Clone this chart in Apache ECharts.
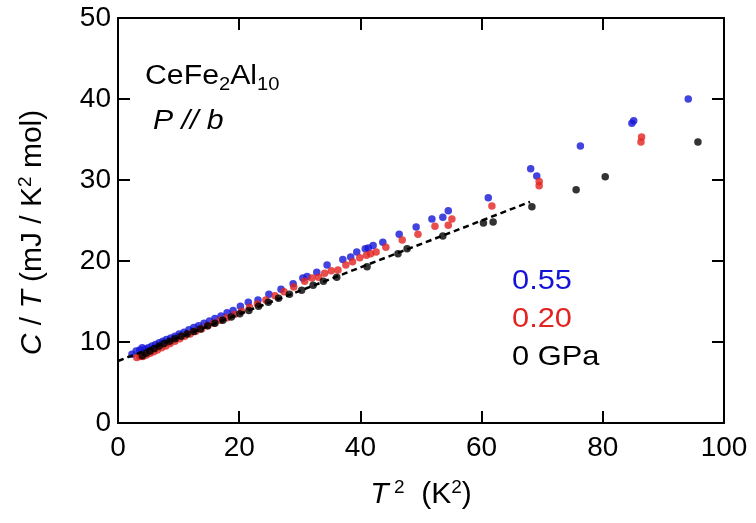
<!DOCTYPE html>
<html>
<head>
<meta charset="utf-8">
<script src="https://cdn.jsdelivr.net/npm/echarts@6/dist/echarts.min.js"></script>
<style>
  html, body { margin: 0; padding: 0; background: #fff; }
  #chart { width: 756px; height: 523px; }
</style>
</head>
<body>
<div id="chart"></div>
<script>
// C/T versus T^2 for CeFe2Al10, P // b, at three pressures
const p055 = [
  [2.3, 8.5], [3.0, 8.9], [3.6, 9.0], [4.0, 9.3], [4.5, 9.1], [5.0, 9.3], [5.6, 9.5],
  [6.2, 9.7], [6.8, 9.9], [7.4, 10.1], [8.0, 10.3], [8.7, 10.5], [9.4, 10.7], [10.1, 11.0],
  [10.9, 11.2], [11.7, 11.5], [12.5, 11.8], [13.3, 12.0], [14.2, 12.3], [15.1, 12.6],
  [16.0, 12.9], [17.0, 13.2], [18.0, 13.6], [19.0, 13.9], [20.2, 14.4], [21.5, 14.9],
  [23.1, 15.2], [24.9, 15.9], [26.9, 16.5], [28.9, 17.2], [30.5, 17.9], [31.2, 18.1],
  [32.8, 18.6], [34.5, 19.5], [37.1, 20.2], [38.4, 20.5], [39.4, 21.1], [40.8, 21.5],
  [41.3, 21.6], [42.1, 21.9], [43.7, 22.3], [46.4, 23.3], [49.2, 24.2], [51.8, 25.2],
  [53.6, 25.4], [54.5, 26.2], [61.1, 27.8], [68.1, 31.4], [69.1, 30.5], [76.3, 34.2],
  [84.8, 37.0], [85.1, 37.3], [94.1, 40.0]
];
const p020 = [
  [3.1, 8.1], [3.6, 8.2], [4.1, 8.2], [4.7, 8.4], [5.3, 8.6], [5.9, 8.8], [6.5, 9.0],
  [7.2, 9.3], [7.9, 9.5], [8.6, 9.8], [9.4, 10.1], [10.2, 10.4], [11.0, 10.7], [11.9, 11.0],
  [12.8, 11.3], [13.8, 11.6], [14.8, 12.0], [15.8, 12.3], [16.9, 12.7], [18.0, 13.0],
  [19.2, 13.4], [20.4, 13.8], [21.7, 14.3], [23.0, 14.7], [24.4, 15.2], [25.9, 15.7],
  [27.4, 16.2], [29.0, 16.8], [30.8, 17.5], [32.0, 17.9], [33.1, 18.0], [34.1, 18.5],
  [35.2, 18.8], [36.3, 18.9], [37.6, 19.5], [38.7, 19.9], [39.9, 20.4], [41.0, 20.7],
  [41.7, 20.9], [42.6, 21.1], [44.2, 21.7], [46.9, 22.6], [49.5, 23.3], [52.3, 24.3],
  [54.5, 24.4], [55.1, 25.2], [61.7, 26.8], [69.5, 29.3], [69.5, 29.8], [86.3, 34.7],
  [86.4, 35.3]
];
const p000 = [
  [4.0, 8.3], [4.6, 8.6], [5.3, 8.9], [6.0, 9.2], [6.8, 9.5], [7.6, 9.8], [8.5, 10.1],
  [9.4, 10.4], [10.4, 10.7], [11.4, 11.0], [12.5, 11.3], [13.6, 11.6], [14.8, 12.0],
  [16.0, 12.3], [17.3, 12.7], [18.7, 13.1], [20.1, 13.5], [21.6, 13.9], [23.2, 14.4],
  [24.8, 14.9], [26.5, 15.4], [28.3, 15.9], [30.3, 16.4], [32.2, 17.0], [33.9, 17.5],
  [36.1, 18.0], [41.1, 19.3], [46.2, 20.9], [47.7, 21.5], [53.6, 23.1], [60.3, 24.7],
  [61.9, 24.8], [68.3, 26.7], [75.6, 28.8], [80.4, 30.4], [95.7, 34.7]
];
// linear fit gamma + beta*T^2 through the 0 GPa data
const fitLine = [[0, 7.65], [68, 27.3]];

const xTicks = { min: 0, max: 100, interval: 20 };
const yTicks = { min: 0, max: 50, interval: 10 };
const legendLabels = ['0.55', '0.20', '0 GPa'];

const FONT = '"Liberation Sans", Arial, sans-serif';
const BLUE = '#1414d8';
const RED = '#e2231f';
const BLACK = '#000000';

const axisLine = { show: true, onZero: false, lineStyle: { color: '#000', width: 2 } };
const axisTick = { show: true, inside: true, length: 12, lineStyle: { color: '#000', width: 2 } };
const tickLabel = { fontSize: 28, fontFamily: FONT, color: '#000' };

const chart = echarts.init(document.getElementById('chart'), null, { renderer: 'canvas' });

function titleStyles(size) {
  const n = { fontSize: size, fontFamily: FONT, color: '#000', lineHeight: size + 4 };
  return {
    n,
    i: Object.assign({}, n, { fontStyle: 'italic' }),
    s: { fontSize: Math.round(size * 0.62), fontFamily: FONT, color: '#000', verticalAlign: 'top', lineHeight: size + 4 }
  };
}

chart.setOption({
  animation: false,
  backgroundColor: '#fff',
  grid: { left: 118, right: 32, top: 18, bottom: 100 },
  xAxis: [
    {
      type: 'value', min: xTicks.min, max: xTicks.max, interval: xTicks.interval,
      axisLine, axisTick, splitLine: { show: false },
      axisLabel: Object.assign({ margin: 11 }, tickLabel),
      name: '{i|T}{s| 2}{n|  (K}{s|2}{n|)}',
      nameLocation: 'middle', nameGap: 55,
      nameTextStyle: { rich: titleStyles(30) }
    },
    {
      type: 'value', position: 'top', min: xTicks.min, max: xTicks.max, interval: xTicks.interval,
      axisLine, axisTick, axisLabel: { show: false }, splitLine: { show: false }
    }
  ],
  yAxis: [
    {
      type: 'value', min: yTicks.min, max: yTicks.max, interval: yTicks.interval,
      axisLine, axisTick, splitLine: { show: false },
      axisLabel: Object.assign({ margin: 7 }, tickLabel),
      name: '{i|C}{n| / }{i|T}{n| (mJ / K}{s|2}{n| mol)}',
      nameLocation: 'middle', nameGap: 68,
      nameTextStyle: { rich: titleStyles(30), padding: [0, 24, 0, 0] }
    },
    {
      type: 'value', position: 'right', min: yTicks.min, max: yTicks.max, interval: yTicks.interval,
      axisLine, axisTick, axisLabel: { show: false }, splitLine: { show: false }
    }
  ],
  series: [
    {
      name: legendLabels[0], type: 'scatter', data: p055, symbol: 'circle', symbolSize: 7.5,
      itemStyle: { color: BLUE }, z: 2
    },
    {
      name: legendLabels[1], type: 'scatter', data: p020, symbol: 'circle', symbolSize: 7.5,
      itemStyle: { color: RED }, z: 3
    },
    {
      name: legendLabels[2], type: 'scatter', data: p000, symbol: 'circle', symbolSize: 7.5,
      itemStyle: { color: BLACK }, z: 4
    },
    {
      type: 'line', data: fitLine, symbol: 'none', z: 5,
      lineStyle: { color: '#000', width: 2.5, type: [6, 4] }
    }
  ],
  graphic: [
    {
      type: 'text', x: 145, y: 60, scaleX: 1.12,
      style: {
        text: '{n|CeFe}{b|2}{n|Al}{b|10}',
        rich: {
          n: { fontSize: 27, fontFamily: FONT, color: '#000', lineHeight: 34 },
          b: { fontSize: 18, fontFamily: FONT, color: '#000', verticalAlign: 'bottom', lineHeight: 34 }
        }
      }
    },
    {
      type: 'text', x: 153, y: 108, scaleX: 1.12,
      style: { text: 'P // b', font: 'italic 27px ' + FONT, fill: '#000' }
    },
    {
      type: 'text', x: 512, y: 267, scaleX: 1.1,
      style: { text: legendLabels[0], font: '28px ' + FONT, fill: BLUE }
    },
    {
      type: 'text', x: 512, y: 305, scaleX: 1.1,
      style: { text: legendLabels[1], font: '28px ' + FONT, fill: RED }
    },
    {
      type: 'text', x: 512, y: 343, scaleX: 1.1,
      style: { text: legendLabels[2], font: '28px ' + FONT, fill: BLACK }
    }
  ]
});
</script>
</body>
</html>
